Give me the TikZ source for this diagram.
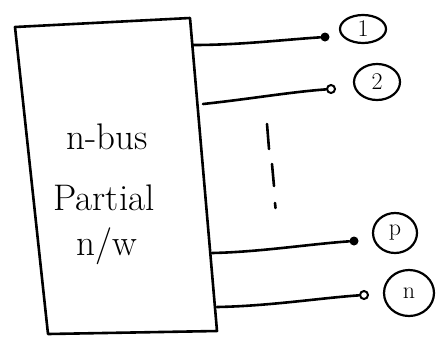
\documentclass[tikz,border=0pt]{standalone}
\usetikzlibrary{shapes.geometric}
\begin{document}
\begin{tikzpicture}[x=1pt,y=-1pt,
  wire/.style={line width=2.6pt,line cap=round},
  fulldot/.style={circle,fill=black,inner sep=0pt,minimum size=9pt},
  opendot/.style={circle,draw=black,line width=2pt,fill=white,inner sep=0pt,minimum size=8pt},
  tag/.style={ellipse,draw=black,line width=2.2pt,inner sep=0pt,font=\fontsize{24}{26}\selectfont},
  label/.style={font=\fontsize{37}{40}\selectfont,inner sep=0pt}]
\useasboundingbox (0,0) rectangle (443,346);
% box corners
\coordinate (tl) at (15,27);
\coordinate (tr) at (190,18);
\coordinate (br) at (217,331);
\coordinate (bl) at (48,334);
\draw[wire,line join=round] (tl) -- (tr) -- (br) -- (bl) -- cycle;
% text
\node[label] (t1) at (107,137) {n-bus};
\node[label] (t2) at (104,198) {Partial};
\node[label] (t3) at (107,246) {n/w};
% wire starts on box edge
\coordinate (s1) at (193,45);
\coordinate (s2) at (203,104);
\coordinate (sp) at (212,253);
\coordinate (sn) at (217,307);
% terminals
\node[fulldot] (d1) at (325,37) {};
\node[opendot] (d2) at (331,89) {};
\node[fulldot] (dp) at (354,241) {};
\node[opendot] (dn) at (364,295) {};
\draw[wire] (s1) .. controls (240,45) and (280,40) .. (d1);
\draw[wire] (s2) .. controls (250,99) and (290,92) .. (d2);
\draw[wire] (sp) .. controls (260,252) and (310,244) .. (dp);
\draw[wire] (sn) .. controls (270,306) and (320,298) .. (dn);
% circled labels
\node[tag,minimum width=46pt,minimum height=28pt] (c1) at (363,29) {1};
\node[tag,minimum width=46pt,minimum height=36pt] (c2) at (377,82) {2};
\node[tag,minimum width=44pt,minimum height=40pt] (cp) at (395,233) {p};
\node[tag,minimum width=50pt,minimum height=46pt] (cn) at (409,293) {n};
% vertical dashes
\coordinate (v1a) at (267,124); \coordinate (v1b) at (269,149);
\coordinate (v2a) at (272,164); \coordinate (v2b) at (274,186);
\coordinate (v3a) at (275,203); \coordinate (v3b) at (275.5,208);
\draw[wire] (v1a) -- (v1b);
\draw[wire] (v2a) -- (v2b);
\draw[wire] (v3a) -- (v3b);
\end{tikzpicture}
\end{document}
